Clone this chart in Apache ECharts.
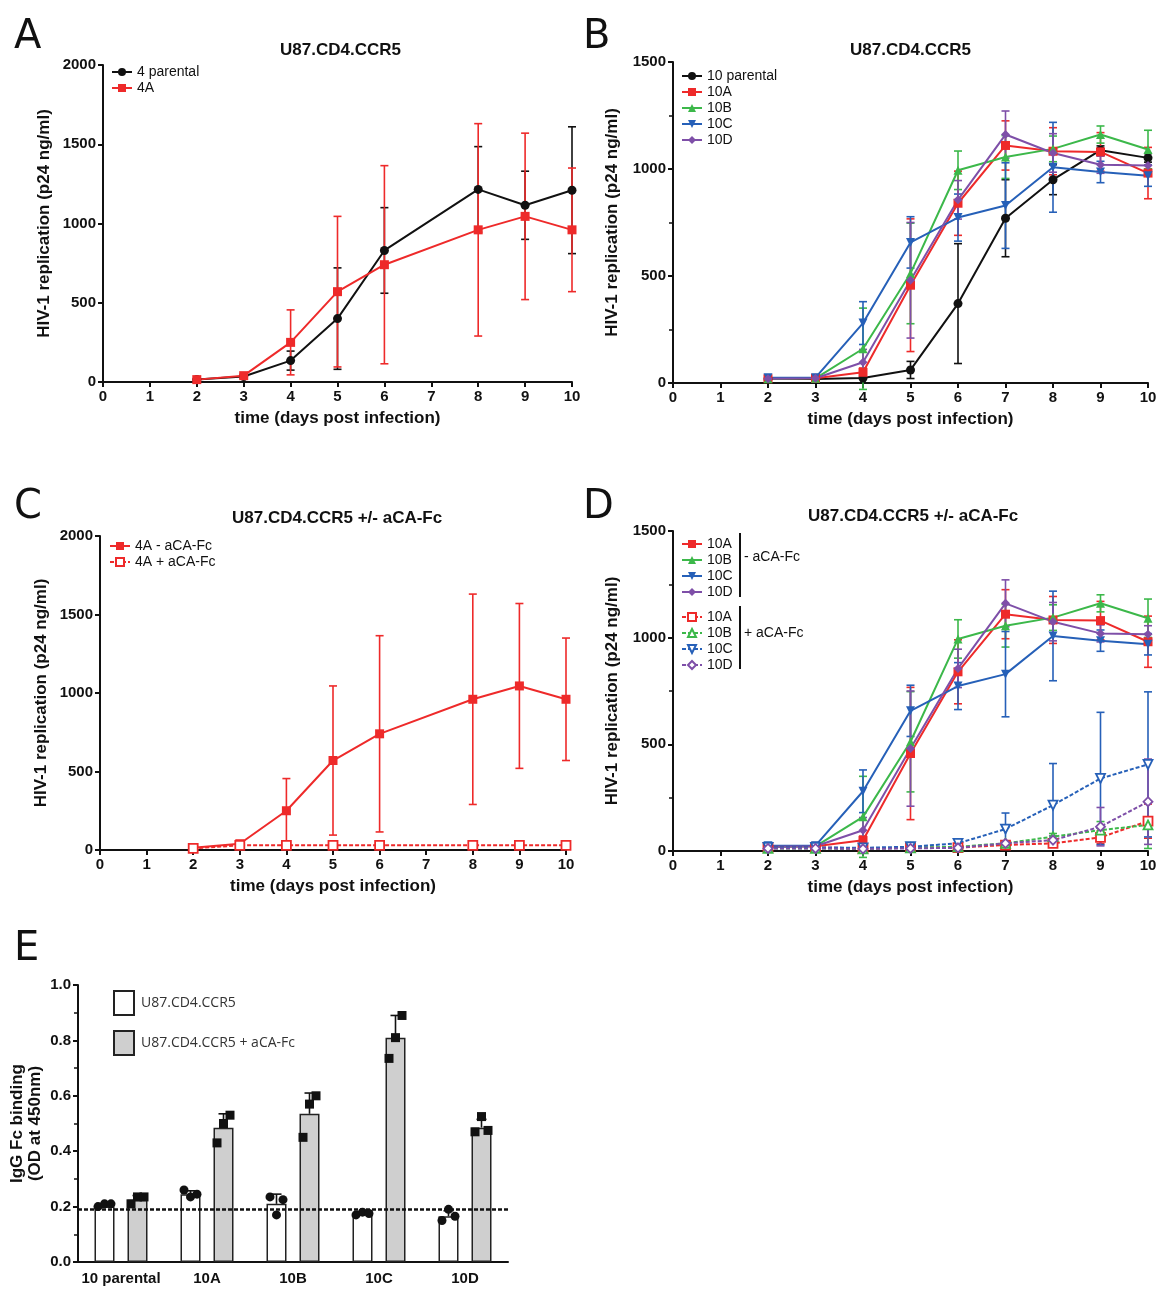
<!DOCTYPE html>
<html>
<head>
<meta charset="utf-8">
<script src="https://cdn.jsdelivr.net/npm/echarts@6/dist/echarts.min.js"></script>
<style>
  html, body { margin: 0; padding: 0; background: #fff; }
  #main { width: 1170px; height: 1303px; }
</style>
</head>
<body>
<div id="main"></div>
<script>
// days post infection
const days = [2, 3, 4, 5, 6, 7, 8, 9, 10];

// panel A / C
const a_parental = [15, 35, 135, 400, 830, null, 1215, 1115, 1210];
const a_parental_sd = [5, 10, 60, 320, 270, null, 270, 215, 400];
const a_4A = [15, 40, 250, 570, 740, null, 960, 1045, 960];
const a_4A_sd = [5, 10, 205, 475, 625, null, 670, 525, 390];
const c_4A_plus = [10, 30, 30, 30, 30, null, 30, 30, 30];
const c_4A_plus_sd = [3, 5, 5, 5, 5, null, 5, 5, 5];

// panel B / D (- aCA-Fc)
const b_parental = [19, 19, 23, 61, 371, 770, 950, 1088, 1052];
const b_parental_sd = [5, 5, 5, 40, 280, 180, 70, 20, 20];
const b_10A = [20, 22, 50, 457, 840, 1110, 1083, 1080, 981];
const b_10A_sd = [5, 5, 20, 310, 150, 115, 110, 90, 120];
const b_10B = [20, 22, 160, 512, 994, 1056, 1094, 1161, 1091];
const b_10B_sd = [5, 5, 190, 235, 90, 100, 60, 40, 90];
const b_10C = [25, 25, 280, 657, 773, 829, 1008, 986, 969];
const b_10C_sd = [5, 5, 100, 120, 110, 200, 210, 50, 50];
const b_10D = [20, 22, 97, 480, 856, 1161, 1075, 1020, 1016];
const b_10D_sd = [5, 5, 60, 270, 90, 110, 90, 40, 40];

// panel D (+ aCA-Fc)
const d_10A = [17, 17, 12, 16, 16, 28, 36, 64, 140];
const d_10A_sd = [3, 3, 3, 3, 3, 5, 10, 30, 80];
const d_10B = [12, 12, 10, 15, 20, 36, 67, 98, 122];
const d_10B_sd = [3, 3, 3, 3, 5, 10, 15, 40, 110];
const d_10C = [17, 17, 15, 20, 36, 103, 215, 340, 406];
const d_10C_sd = [3, 3, 3, 5, 8, 75, 195, 310, 340];
const d_10D = [12, 12, 10, 12, 15, 36, 51, 114, 231];
const d_10D_sd = [3, 3, 3, 3, 5, 10, 20, 90, 200];

// panel E
const e_groups = ['10 parental', '10A', '10B', '10C', '10D'];
const e_plain = [0.20, 0.245, 0.21, 0.175, 0.165];
const e_plain_sd = [0.005, 0.012, 0.035, 0.006, 0.02];
const e_plain_pts = [[0.20, 0.21, 0.21], [0.26, 0.235, 0.245], [0.235, 0.17, 0.225], [0.17, 0.18, 0.175], [0.15, 0.19, 0.165]];
const e_fc = [0.225, 0.485, 0.535, 0.81, 0.485];
const e_fc_sd = [0.015, 0.05, 0.075, 0.08, 0.03];
const e_fc_pts = [[0.21, 0.235, 0.235], [0.43, 0.50, 0.53], [0.45, 0.57, 0.60], [0.735, 0.81, 0.89], [0.47, 0.525, 0.475]];
const e_cutoff = 0.19;

const RED = '#ee2a2a', GREEN = '#3cb84a', BLUE = '#2660b8', PURPLE = '#7e4fa8', BLACK = '#111';
const DOWN = 'path://M0,0L10,0L5,9Z';
const FONT = 'Liberation Sans';

function pairs(vals) {
    const out = [];
    days.forEach((d, i) => { if (vals[i] != null) out.push([d, vals[i]]); });
    return out;
}
function errData(vals, sd) {
    const out = [];
    days.forEach((d, i) => { if (vals[i] != null) out.push([d, vals[i] - sd[i], vals[i] + sd[i]]); });
    return out;
}
function errRender(offset, cap) {
    return function (params, api) {
        const x = api.value(0);
        const lo = api.coord([x, api.value(1)]);
        const hi = api.coord([x, api.value(2)]);
        const cx = lo[0] + offset;
        const st = { stroke: api.visual('color'), lineWidth: 1.6 };
        return {
            type: 'group', children: [
                { type: 'line', shape: { x1: cx, y1: lo[1], x2: cx, y2: hi[1] }, style: st },
                { type: 'line', shape: { x1: cx - cap, y1: lo[1], x2: cx + cap, y2: lo[1] }, style: st },
                { type: 'line', shape: { x1: cx - cap, y1: hi[1], x2: cx + cap, y2: hi[1] }, style: st }
            ]
        };
    };
}

const series = [];
function addLine(name, gi, vals, sd, color, symbol, open, size) {
    series.push({
        name: name, type: 'line', xAxisIndex: gi, yAxisIndex: gi,
        data: pairs(vals), symbol: symbol, symbolSize: size || 9,
        lineStyle: { color: color, width: 2, type: open ? [4, 2] : 'solid' },
        itemStyle: { color: open ? '#fff' : color, borderColor: color, borderWidth: open ? 1.8 : 0 },
        z: 3
    });
    series.push({
        name: name, type: 'custom', xAxisIndex: gi, yAxisIndex: gi,
        data: errData(vals, sd), renderItem: errRender(0, 4),
        itemStyle: { color: color }, z: 2
    });
}

addLine('A|4 parental', 0, a_parental, a_parental_sd, BLACK, 'circle');
addLine('A|4A', 0, a_4A, a_4A_sd, RED, 'rect');

addLine('B|10 parental', 1, b_parental, b_parental_sd, BLACK, 'circle');
addLine('B|10A', 1, b_10A, b_10A_sd, RED, 'rect');
addLine('B|10B', 1, b_10B, b_10B_sd, GREEN, 'triangle');
addLine('B|10C', 1, b_10C, b_10C_sd, BLUE, DOWN);
addLine('B|10D', 1, b_10D, b_10D_sd, PURPLE, 'diamond');

addLine('C|4A - aCA-Fc', 2, a_4A, a_4A_sd, RED, 'rect');
addLine('C|4A + aCA-Fc', 2, c_4A_plus, c_4A_plus_sd, RED, 'rect', true);

addLine('D|10A', 3, b_10A, b_10A_sd, RED, 'rect');
addLine('D|10B', 3, b_10B, b_10B_sd, GREEN, 'triangle');
addLine('D|10C', 3, b_10C, b_10C_sd, BLUE, DOWN);
addLine('D|10D', 3, b_10D, b_10D_sd, PURPLE, 'diamond');
addLine('D+|10A', 3, d_10A, d_10A_sd, RED, 'rect', true);
addLine('D+|10B', 3, d_10B, d_10B_sd, GREEN, 'triangle', true);
addLine('D+|10C', 3, d_10C, d_10C_sd, BLUE, DOWN, true);
addLine('D+|10D', 3, d_10D, d_10D_sd, PURPLE, 'diamond', true);

// panel E bars
const BAR_OFF = 16.5;
series.push({
    name: 'E|U87.CD4.CCR5', type: 'bar', xAxisIndex: 4, yAxisIndex: 4,
    data: e_plain, barWidth: 20, barGap: '65%',
    itemStyle: { color: '#fff', borderColor: '#222', borderWidth: 1.5 },
    markLine: {
        silent: true, symbol: 'none', label: { show: false },
        lineStyle: { color: '#111', type: [4, 2], width: 2.5 },
        data: [{ yAxis: e_cutoff }]
    }
});
series.push({
    name: 'E|U87.CD4.CCR5 + aCA-Fc', type: 'bar', xAxisIndex: 4, yAxisIndex: 4,
    data: e_fc, barWidth: 20, barGap: '65%',
    itemStyle: { color: '#cfcfcf', borderColor: '#222', borderWidth: 1.5 }
});
[[e_plain, e_plain_sd, -BAR_OFF], [e_fc, e_fc_sd, BAR_OFF]].forEach(function (g) {
    series.push({
        type: 'custom', xAxisIndex: 4, yAxisIndex: 4, z: 4,
        data: g[0].map((v, i) => [i, v, v + g[1][i]]),
        renderItem: function (params, api) {
            const top = api.coord([api.value(0), api.value(2)]);
            const mid = api.coord([api.value(0), api.value(1)]);
            const cx = mid[0] + g[2];
            const st = { stroke: '#111', lineWidth: 1.6 };
            return {
                type: 'group', children: [
                    { type: 'line', shape: { x1: cx, y1: mid[1], x2: cx, y2: top[1] }, style: st },
                    { type: 'line', shape: { x1: cx - 5, y1: top[1], x2: cx + 5, y2: top[1] }, style: st }
                ]
            };
        }
    });
});
[[e_plain_pts, -BAR_OFF, 'circle'], [e_fc_pts, BAR_OFF, 'rect']].forEach(function (g) {
    const data = [];
    g[0].forEach((pts, i) => pts.forEach((v, k) => data.push([i, v, k])));
    series.push({
        type: 'custom', xAxisIndex: 4, yAxisIndex: 4, z: 5, data: data,
        renderItem: function (params, api) {
            const p = api.coord([api.value(0), api.value(1)]);
            const cx = p[0] + g[1] + (api.value(2) - 1) * 6.5;
            if (g[2] === 'circle') {
                return { type: 'circle', shape: { cx: cx, cy: p[1], r: 4.5 }, style: { fill: '#111' } };
            }
            return { type: 'rect', shape: { x: cx - 4.5, y: p[1] - 4.5, width: 9, height: 9 }, style: { fill: '#111' } };
        }
    });
});

const grids = [
    { left: 103, top: 65, width: 469, height: 317 },
    { left: 673, top: 62, width: 475, height: 321 },
    { left: 100, top: 536, width: 466, height: 314 },
    { left: 673, top: 531, width: 475, height: 320 },
    { left: 78, top: 985, width: 430, height: 277 }
];
const axisLine = { lineStyle: { color: '#111', width: 2 } };
const tickLab = { color: '#111', fontFamily: FONT, fontWeight: 'bold', fontSize: 15 };
const yMax = [2000, 1500, 2000, 1500];

const xAxes = [0, 1, 2, 3].map(i => ({
    type: 'value', gridIndex: i, min: 0, max: 10, interval: 1,
    name: 'time (days post infection)', nameLocation: 'middle', nameGap: 28,
    nameTextStyle: { color: '#111', fontFamily: FONT, fontWeight: 'bold', fontSize: 17 },
    axisLine: axisLine, axisTick: { length: 5, lineStyle: { width: 2, color: '#111' } },
    axisLabel: Object.assign({ margin: 7 }, tickLab), splitLine: { show: false }
}));
xAxes.push({
    type: 'category', gridIndex: 4, data: e_groups,
    axisLine: axisLine, axisTick: { alignWithLabel: true, length: 5, lineStyle: { width: 2, color: '#111' } },
    axisLabel: Object.assign({ margin: 9, interval: 0 }, tickLab)
});
const yAxes = [0, 1, 2, 3].map(i => ({
    type: 'value', gridIndex: i, min: 0, max: yMax[i], interval: 500,
    name: 'HIV-1 replication (p24 ng/ml)', nameLocation: 'middle', nameGap: i % 2 ? 52 : 50,
    nameTextStyle: { color: '#111', fontFamily: FONT, fontWeight: 'bold', fontSize: 17 },
    axisLine: Object.assign({ show: true }, axisLine),
    axisTick: { show: true, length: 5, lineStyle: { width: 2, color: '#111' } },
    minorTick: { show: i % 2 === 1, splitNumber: 2, length: 4, lineStyle: { width: 1.5, color: '#111' } },
    axisLabel: Object.assign({ margin: 7, formatter: v => String(v) }, tickLab), splitLine: { show: false }
}));
yAxes.push({
    type: 'value', gridIndex: 4, min: 0, max: 1, interval: 0.2,
    name: 'IgG Fc binding\n(OD at 450nm)', nameLocation: 'middle', nameGap: 34,
    nameTextStyle: { color: '#111', fontFamily: FONT, fontWeight: 'bold', fontSize: 17, lineHeight: 18 },
    axisLine: Object.assign({ show: true }, axisLine),
    axisTick: { show: true, length: 5, lineStyle: { width: 2, color: '#111' } },
    minorTick: { show: true, splitNumber: 2, length: 4, lineStyle: { width: 1.5, color: '#111' } },
    axisLabel: Object.assign({ margin: 7, formatter: v => v.toFixed(1) }, tickLab), splitLine: { show: false }
});

function legend(prefix, left, top, extra) {
    const names = series.filter(s => s.type !== 'custom' && s.name && s.name.split('|')[0] === prefix).map(s => s.name);
    return Object.assign({
        data: names, left: left, top: top, orient: 'vertical', itemGap: 2,
        itemWidth: 20, itemHeight: 10, selectedMode: false,
        formatter: n => n.split('|')[1],
        textStyle: { fontFamily: FONT, fontSize: 14, color: '#111', padding: [0, 0, 0, 0] }
    }, extra || {});
}

const titleStyle = { fontFamily: FONT, fontWeight: 'bold', fontSize: 17, fill: '#111' };
const letterStyle = { fontFamily: 'DejaVu Sans', fontSize: 40, fill: '#111' };
function txt(x, y, text, style, align) {
    return { type: 'text', left: x, top: y, style: Object.assign({ text: text, textAlign: align || 'left' }, style) };
}

const chart = echarts.init(document.getElementById('main'));
chart.setOption({
    animation: false,
    backgroundColor: '#fff',
    grid: grids,
    xAxis: xAxes,
    yAxis: yAxes,
    legend: [
        legend('A', 106, 60),
        legend('B', 676, 64),
        legend('C', 104, 534),
        legend('D', 676, 532),
        legend('D+', 676, 605),
        legend('E', 108, 985, {
            itemGap: 14, itemWidth: 20, itemHeight: 24, icon: 'rect',
            textStyle: { fontFamily: 'Open Sans', fontSize: 14, color: '#333', padding: [0, 0, 0, 2] }
        })
    ],
    series: series,
    graphic: [
        txt(14, 18, 'A', letterStyle),
        txt(583, 18, 'B', letterStyle),
        txt(14, 488, 'C', letterStyle),
        txt(583, 488, 'D', letterStyle),
        txt(14, 930, 'E', letterStyle),
        txt(280, 42, 'U87.CD4.CCR5', titleStyle),
        txt(850, 42, 'U87.CD4.CCR5', titleStyle),
        txt(232, 510, 'U87.CD4.CCR5 +/- aCA-Fc', titleStyle),
        txt(808, 508, 'U87.CD4.CCR5 +/- aCA-Fc', titleStyle),
        { type: 'rect', left: 739, top: 533, shape: { width: 2, height: 64 }, style: { fill: '#111' } },
        { type: 'rect', left: 739, top: 606, shape: { width: 2, height: 63 }, style: { fill: '#111' } },
        txt(744, 550, '- aCA-Fc', { fontFamily: FONT, fontSize: 14, fill: '#111' }),
        txt(744, 626, '+ aCA-Fc', { fontFamily: FONT, fontSize: 14, fill: '#111' })
    ]
});
</script>
</body>
</html>
